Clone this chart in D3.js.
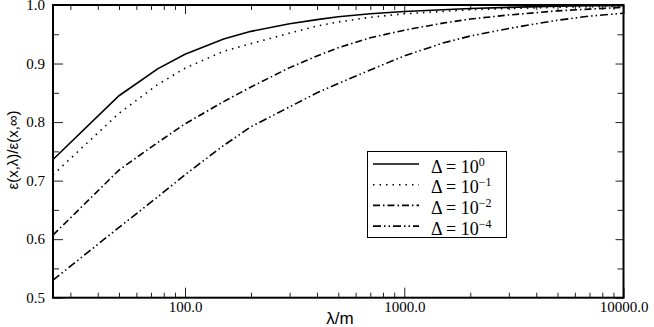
<!DOCTYPE html>
<html><head><meta charset="utf-8">
<script src="https://cdn.jsdelivr.net/npm/d3@7"></script>
<style>body{margin:0;background:#fff}svg{display:block}</style>
</head><body>
<svg id="chart" width="654" height="327"></svg>
<script>
// ---- data ----
const lambdaVals = [25,50,75,100,150,200,300,400,500,700,1000,1500,2000,3000,5000,7000,10000];
const delta0 = [0.736,0.845,0.891,0.916,0.942,0.955,0.968,0.975,0.980,0.985,0.989,0.992,0.994,0.996,0.998,0.999,0.999];
const delta1 = [0.710,0.815,0.864,0.892,0.921,0.934,0.952,0.964,0.971,0.979,0.985,0.989,0.992,0.994,0.996,0.997,0.998];
const delta2 = [0.607,0.718,0.765,0.797,0.835,0.860,0.893,0.913,0.927,0.944,0.957,0.969,0.976,0.983,0.990,0.993,0.996];
const delta4 = [0.530,0.620,0.672,0.710,0.760,0.792,0.826,0.850,0.866,0.889,0.913,0.935,0.947,0.960,0.974,0.981,0.986];
const seriesExp = ["0","\u22121","\u22122","\u22124"];
const xMajor = [100,1000,10000];
const xMinor = [30,40,50,60,70,80,90,200,300,400,500,600,700,800,900,2000,3000,4000,5000,6000,7000,8000,9000];
const yMajor = [0.5,0.6,0.7,0.8,0.9,1.0];
const yMinor = [0.55,0.65,0.75,0.85,0.95];

const seriesList = [delta0, delta1, delta2, delta4];
const dashes = [null, "1.5,5", "7,3,1.5,3", "8,3,1.5,3,1.5,3"];

const SERIF = '"Liberation Serif", "Times New Roman", serif';
const SANS = '"Liberation Sans", Arial, sans-serif';

const svg = d3.select("#chart");
const L = 53, R = 623.5, T = 5, B = 297.7;
const x = d3.scaleLog().domain([25,10000]).range([L,R]);
const y = d3.scaleLinear().domain([0.5,1.0]).range([B,T]);

function styleAxis(g, labels){
  g.select(".domain").remove();
  g.attr("font-family",null).attr("font-size",null);
  g.selectAll(".tick line").attr("stroke","#222").attr("stroke-width",1);
  g.selectAll("text").style("font-family",SERIF).style("font-size","15px").attr("fill","#000");
  if(!labels) g.selectAll("text").remove();
}

// bottom
svg.append("g").attr("transform",`translate(0,${B})`)
  .call(d3.axisBottom(x).tickValues(xMajor).tickSizeInner(-10).tickSizeOuter(0).tickPadding(4).tickFormat(d=>d3.format(".1f")(d)))
  .call(g=>styleAxis(g,true));
svg.append("g").attr("transform",`translate(0,${B})`)
  .call(d3.axisBottom(x).tickValues(xMinor).tickSizeInner(-5).tickSizeOuter(0).tickFormat(""))
  .call(g=>styleAxis(g,false));
// top
svg.append("g").attr("transform",`translate(0,${T})`)
  .call(d3.axisTop(x).tickValues(xMajor).tickSizeInner(-9).tickSizeOuter(0).tickFormat(""))
  .call(g=>styleAxis(g,false));
svg.append("g").attr("transform",`translate(0,${T})`)
  .call(d3.axisTop(x).tickValues(xMinor).tickSizeInner(-5).tickSizeOuter(0).tickFormat(""))
  .call(g=>styleAxis(g,false));
// left
svg.append("g").attr("transform",`translate(${L},0)`)
  .call(d3.axisLeft(y).tickValues(yMajor).tickSizeInner(-10).tickSizeOuter(0).tickPadding(8).tickFormat(d3.format(".1f")))
  .call(g=>styleAxis(g,true));
svg.append("g").attr("transform",`translate(${L},0)`)
  .call(d3.axisLeft(y).tickValues(yMinor).tickSizeInner(-6).tickSizeOuter(0).tickFormat(""))
  .call(g=>styleAxis(g,false));
// right
svg.append("g").attr("transform",`translate(${R},0)`)
  .call(d3.axisRight(y).tickValues(yMajor).tickSizeInner(-8).tickSizeOuter(0).tickFormat(""))
  .call(g=>styleAxis(g,false));
svg.append("g").attr("transform",`translate(${R},0)`)
  .call(d3.axisRight(y).tickValues(yMinor).tickSizeInner(-6).tickSizeOuter(0).tickFormat(""))
  .call(g=>styleAxis(g,false));

// curves
const line = d3.line().x((d,i)=>x(lambdaVals[i])).y(d=>y(d));
seriesList.forEach((s,k)=>{
  const p = svg.append("path").datum(s).attr("d",line)
    .attr("fill","none").attr("stroke","#000").attr("stroke-width",1.6);
  if(dashes[k]) p.attr("stroke-dasharray",dashes[k]);
});

// frame
svg.append("rect").attr("x",L).attr("y",T).attr("width",R-L).attr("height",B-T)
  .attr("fill","none").attr("stroke","#000").attr("stroke-width",2);

// axis titles
svg.append("text").attr("x",340).attr("y",324).attr("text-anchor","middle")
  .style("font-family",SANS).style("font-size","17px").text("\u03bb/m");
svg.append("text").attr("transform","translate(18,150) rotate(-90)").attr("text-anchor","middle")
  .style("font-family",SANS).style("font-size","15px").text("\u03b5(x,\u03bb)/\u03b5(x,\u221e)");

// legend
const lg = svg.append("g");
lg.append("rect").attr("x",367.5).attr("y",151.5).attr("width",139).attr("height",86)
  .attr("fill","#fff").attr("stroke","#000").attr("stroke-width",1);
seriesExp.forEach((e,k)=>{
  const yy = 164 + k*20.7;
  const l = lg.append("line").attr("x1",373).attr("x2",419).attr("y1",yy).attr("y2",yy)
    .attr("stroke","#000").attr("stroke-width",1.6);
  if(dashes[k]) l.attr("stroke-dasharray",dashes[k]);
  const t = lg.append("text").attr("x",431).attr("y",yy+8.5)
    .style("font-family",SERIF).style("font-size","18px");
  t.append("tspan").text("\u0394 = 10");
  t.append("tspan").attr("dy",-7).style("font-size","12px").text(e);
});
</script>
</body></html>
